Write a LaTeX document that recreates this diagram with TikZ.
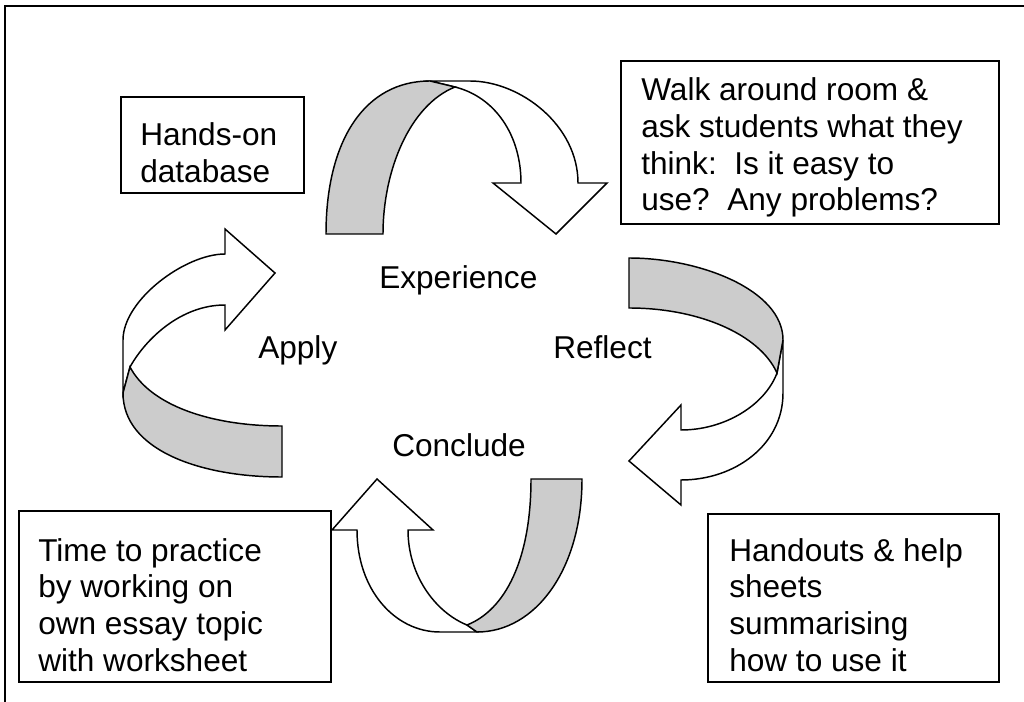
\documentclass[tikz,border=0pt]{standalone}
\usepackage{fontspec}
\setmainfont{Liberation Sans}
\definecolor{backgray}{RGB}{204,204,204}
\tikzset{
 frameline/.style={line width=1.5pt},
 box/.style={draw, line width=1.3pt, inner sep=0pt, anchor=north west},
 txt/.style={anchor=base west, inner sep=0pt},
 lab/.style={anchor=base west, inner sep=0pt, font=\fontsize{23.7pt}{27.5pt}\selectfont},
 body/.style={draw, line width=1.1pt, fill=white, line join=miter},
 back/.style={draw, line width=1.1pt, fill=backgray, line join=miter},
}
\newcommand{\mytext}[1]{\parbox[t]{12cm}{\fontsize{23.7pt}{27.5pt}\selectfont\raggedright #1}}
\begin{document}
\begin{tikzpicture}[x=0.75pt,y=-0.75pt]
\useasboundingbox (0,0) rectangle (1024,702);
\fill[white] (0,0) rectangle (1024,702);
\draw[frameline] (1024,6) -- (5,6) -- (5,702);

% boxes
\node[box, minimum width=137.25pt, minimum height=72pt] (bhands) at (120,96) {};
\node[box, minimum width=283.5pt, minimum height=122.25pt] (bwalk) at (620,60) {};
\node[box, minimum width=234pt, minimum height=128.25pt] (btime) at (18,510) {};
\node[box, minimum width=218.25pt, minimum height=126pt] (bhand) at (707,513) {};

\node[txt] (thands) at (140,146) {\mytext{Hands-on\\database}};
\node[txt] (twalk) at (641,101) {\mytext{Walk around room \&\\ask students what they\\think:~~Is it easy to\\use?~~Any problems?}};
\node[txt] (ttime) at (38,561) {\mytext{Time to practice\\by working on\\own essay topic\\with worksheet}};
\node[txt] (thand) at (729,561) {\mytext{Handouts \& help\\sheets\\summarising\\how to use it}};

% labels
\node[lab] (lexp) at (379,288) {Experience};
\node[lab] (lref) at (553,358) {Reflect};
\node[lab] (lapp) at (258,358) {Apply};
\node[lab] (lcon) at (392,456) {Conclude};

% top arrow
\path[body] (455,87) .. controls (495,97) and (521,135) .. (521,183) -- (493,183) -- (556,234) -- (607,183) -- (578,183) .. controls (578,125) and (520,81) .. (470,81) -- (430,81) -- cycle;
\path[back] (326,234) .. controls (326,140) and (365,81) .. (430,81) -- (455,87) .. controls (410,105) and (383,170) .. (383,234) -- cycle;

% right arrow
\path[body] (777,373) .. controls (765,405) and (725,430) .. (681,430) -- (681,405) -- (629,461) -- (681,505) -- (681,480) .. controls (735,480) and (783,445) .. (783,393) -- (783,340) -- cycle;
\path[back] (629,258) .. controls (700,258) and (783,290) .. (783,340) -- (777,373) .. controls (760,335) and (700,308) .. (629,308) -- cycle;

% bottom arrow
\path[body] (467,625) .. controls (435,612) and (408,575) .. (408,530) -- (433,530) -- (377,479) -- (332,530) -- (357,530) .. controls (357,590) and (395,632) .. (440,632) -- (477,632) -- cycle;
\path[back] (582,479) .. controls (582,570) and (535,632) .. (477,632) -- (467,625) .. controls (505,610) and (531,560) .. (531,479) -- cycle;

% left arrow
\path[body] (130,367) .. controls (145,340) and (180,305) .. (225,305) -- (225,330) -- (275,273) -- (225,229) -- (225,254) .. controls (185,254) and (123,300) .. (123,340) -- (123,393) -- cycle;
\path[back] (282,477) .. controls (200,477) and (123,450) .. (123,393) -- (130,367) .. controls (150,405) and (210,426) .. (282,426) -- cycle;
\end{tikzpicture}
\end{document}
